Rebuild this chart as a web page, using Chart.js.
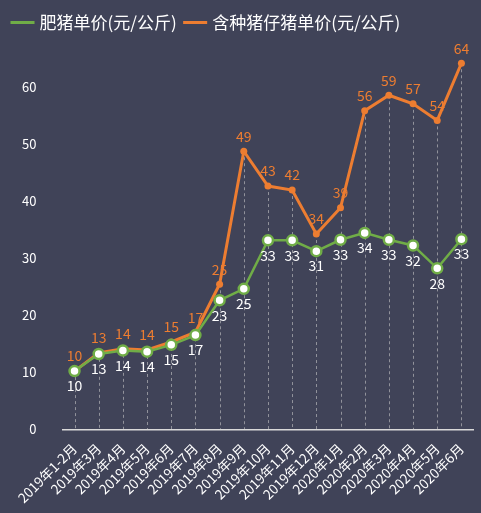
<!DOCTYPE html>
<html><head><meta charset="utf-8">
<script src="https://cdn.jsdelivr.net/npm/chart.js@4"></script>
<style>html,body{margin:0;padding:0;background:#404358;}#w{width:481px;height:513px;}</style>
</head><body><div id="w"><canvas id="c" width="481" height="513"></canvas></div>
<script>
const categories=['2019年1-2月','2019年3月','2019年4月','2019年5月','2019年6月','2019年7月','2019年8月','2019年9月','2019年10月','2019年11月','2019年12月','2020年1月','2020年2月','2020年3月','2020年4月','2020年5月','2020年6月'];
const fatPig=[10.2,13.2,13.8,13.6,14.8,16.5,22.6,24.6,33.1,33.1,31.2,33.2,34.4,33.2,32.2,28.2,33.3];
const piglet=[10.2,13.4,14.1,13.9,15.3,17.0,25.4,48.7,42.6,41.9,34.2,38.8,55.8,58.5,57.0,54.1,64.1];
const fatLabels=[10,13,14,14,15,17,23,25,33,33,31,33,34,33,32,28,33];
const pigletLabels=[10,13,14,14,15,17,25,49,43,42,34,39,56,59,57,54,64];
const yTicks=[0,10,20,30,40,50,60];
const FONT='"Microsoft YaHei","Noto Sans CJK SC",sans-serif';
const drop={id:'drop',beforeDatasetsDraw(ch){const c=ch.ctx,x=ch.scales.x,y=ch.scales.y;c.save();c.strokeStyle='rgba(200,200,200,0.6)';c.lineWidth=1;c.setLineDash([3,3]);
categories.forEach((_,i)=>{const px=Math.round(x.getPixelForValue(i))+0.5;const top=y.getPixelForValue(Math.max(fatPig[i],piglet[i]));c.beginPath();c.moveTo(px,top);c.lineTo(px,y.getPixelForValue(0));c.stroke();});c.restore();},
afterDatasetsDraw(ch){const c=ch.ctx,x=ch.scales.x,y=ch.scales.y;c.save();c.font='14px '+FONT;c.textAlign='center';
categories.forEach((_,i)=>{const px=x.getPixelForValue(i);c.fillStyle='#ffffff';c.textBaseline='top';c.fillText(fatLabels[i],px,y.getPixelForValue(fatPig[i])+8);c.fillStyle='#ed7d31';c.textBaseline='bottom';c.fillText(pigletLabels[i],px,y.getPixelForValue(piglet[i])-8);});c.restore();}};
new Chart(document.getElementById('c'),{type:'line',data:{labels:categories,datasets:[
{label:'肥猪单价(元/公斤)',data:fatPig,borderColor:'#70ad47',backgroundColor:'#ffffff',borderWidth:2.5,pointRadius:5,pointBorderWidth:2.5,pointBorderColor:'#70ad47',pointBackgroundColor:'#ffffff'},
{label:'含种猪仔猪单价(元/公斤)',data:piglet,borderColor:'#ed7d31',backgroundColor:'#ed7d31',borderWidth:3,pointRadius:3.5,pointBorderWidth:0,pointBackgroundColor:'#ed7d31'}]},
options:{responsive:false,animation:false,layout:{padding:{left:4,right:4,top:4,bottom:4}},
plugins:{legend:{position:'top',align:'start',labels:{color:'#ffffff',font:{size:17,family:FONT},usePointStyle:true,pointStyle:'line',boxWidth:28,padding:10,generateLabels(ch){return ch.data.datasets.map((d,i)=>({text:d.label,fillStyle:d.borderColor,strokeStyle:d.borderColor,lineWidth:3,pointStyle:'line',datasetIndex:i,fontColor:'#ffffff'}));}}},tooltip:{enabled:false}},
scales:{x:{offset:true,grid:{display:false},border:{color:'#d9d9d9',width:1.5},ticks:{color:'#ffffff',font:{size:13.5,family:FONT},maxRotation:45,minRotation:45,autoSkip:false}},
y:{min:0,max:yTicks[yTicks.length-1]+8,afterBuildTicks(s){s.ticks=yTicks.map(v=>({value:v}));},grid:{display:false},border:{display:false},ticks:{color:'#ffffff',font:{size:13,family:FONT},padding:18}}}},
plugins:[drop]});
</script></body></html>
